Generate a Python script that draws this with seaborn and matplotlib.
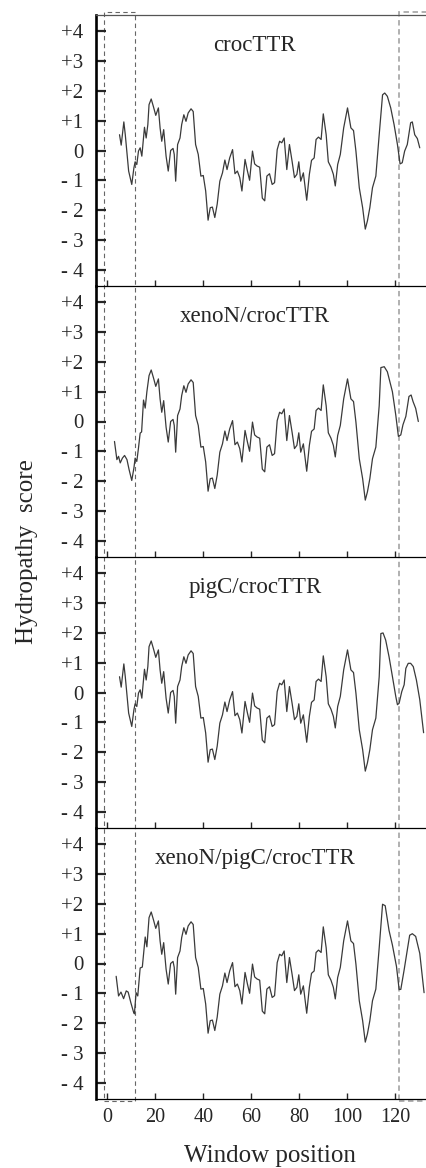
import numpy as np
import pandas as pd
import matplotlib
matplotlib.use('Agg')
import matplotlib.pyplot as plt
import matplotlib.transforms as mtransforms
from matplotlib.patches import Rectangle
import seaborn as sns

sns.set_style('ticks')
plt.rcParams['font.family'] = ['Liberation Serif', 'DejaVu Serif']

# ── DATA ────────────────────────────────────────────────────────
panel_titles = ['crocTTR', 'xenoN/crocTTR', 'pigC/crocTTR', 'xenoN/pigC/crocTTR']

# shared middle part of the hydropathy profile (same in every panel)
core_x = [17.4, 18.3, 19.2, 20.2, 21.3, 22.0, 22.7, 23.5, 24.5, 25.4,
          26.4, 27.4, 27.9, 28.5, 29.3, 30.3, 31.0, 31.9, 32.8, 33.7,
          34.9, 35.8, 36.8, 37.9, 39.0, 40.0, 41.0, 42.0, 42.9, 43.8,
          44.8, 45.8, 46.9, 48.0, 49.0, 49.9, 51.0, 52.2, 53.2, 54.2,
          55.2, 56.1, 57.4, 58.4, 59.3, 60.5, 61.4, 62.4, 63.5, 64.6,
          65.6, 66.5, 67.6, 68.7, 69.7, 70.8, 71.8, 72.7, 73.7, 74.8,
          75.9, 77.0, 78.0, 79.0, 79.8, 80.6, 81.7, 83.1, 84.2, 85.1,
          86.2, 87.0, 88.0, 89.1, 90.0, 91.2, 92.1, 93.2, 94.2, 95.0,
          96.0, 97.1, 98.5, 100.1, 101.5, 102.6, 103.6, 105.0, 106.4, 107.5,
          108.4, 109.4, 110.5, 111.9, 113.3]
core_y = [1.54, 1.73, 1.48, 1.18, 1.43, 0.76, 0.31, 0.70, -0.19, -0.69,
          0.00, 0.07, -0.13, -1.03, 0.20, 0.42, 0.87, 1.20, 0.98, 1.26,
          1.40, 1.31, 0.20, -0.13, -0.86, -0.84, -1.36, -2.34, -1.92, -1.90,
          -2.25, -1.80, -1.03, -0.75, -0.32, -0.64, -0.25, 0.03, -0.78, -0.69,
          -0.91, -1.36, -0.30, -0.69, -1.00, -0.02, -0.45, -0.52, -0.56, -1.60,
          -1.69, -0.86, -0.78, -1.14, -1.08, 0.03, 0.31, 0.26, 0.42, -0.64,
          0.20, -0.36, -0.91, -0.80, -0.38, -1.03, -0.75, -1.67, -0.80, -0.33,
          -0.25, 0.37, 0.45, 0.37, 1.23, 0.53, -0.38, -0.56, -0.80, -1.19,
          -0.47, -0.13, 0.76, 1.43, 0.76, 0.67, -0.02, -1.25, -1.92, -2.64,
          -2.36, -1.92, -1.25, -0.86, 0.53]

# N-terminal heads
croc_head_x = [5.1, 5.8, 6.9, 7.5, 8.9, 10.2, 11.1, 11.6, 12.3, 13.0, 13.7, 14.4, 15.5, 16.2, 16.9]
croc_head_y = [0.53, 0.18, 0.96, 0.53, -0.69, -1.14, -0.58, -0.38, -0.47, -0.02, 0.09, -0.19, 0.78, 0.42, 0.87]
xeno_head_x = [3.0, 4.0, 4.7, 5.4, 6.3, 7.2, 8.2, 9.1, 10.2, 11.1, 11.6, 12.3, 13.0, 13.7, 14.3, 15.1, 15.8, 16.5]
xeno_head_y = [-0.67, -1.28, -1.17, -1.39, -1.23, -1.14, -1.28, -1.62, -1.98, -1.56, -1.23, -1.34, -0.89, -0.39, -0.35, 0.72, 0.45, 1.00]
xp_head_x = [3.7, 4.7, 5.7, 6.8, 7.9, 8.7, 9.8, 10.9, 11.3, 12.0, 12.7, 13.7, 14.6, 15.8, 16.5]
xp_head_y = [-0.43, -1.09, -0.96, -1.18, -0.92, -0.96, -1.31, -1.62, -1.69, -0.98, -1.09, -0.15, -0.12, 0.89, 0.56]

# C-terminal tails
croc_tail_x = [114.7, 115.6, 116.7, 118.1, 119.5, 120.9, 122.0, 122.9, 123.9, 125.0, 126.4, 127.1, 128.1, 129.2, 130.2]
croc_tail_y = [1.87, 1.93, 1.82, 1.43, 0.87, 0.20, -0.45, -0.41, -0.02, 0.20, 0.93, 0.96, 0.53, 0.40, 0.09]
xeno_tail_x = [114.0, 115.4, 116.7, 118.8, 120.2, 121.3, 122.3, 123.2, 124.4, 125.7, 126.6, 127.4, 128.5, 129.6]
xeno_tail_y = [1.81, 1.84, 1.67, 1.00, 0.22, -0.50, -0.45, -0.11, 0.17, 0.84, 0.89, 0.67, 0.44, 0.00]
pig_tail_x = [114.0, 114.9, 116.0, 117.4, 118.8, 120.2, 120.9, 121.6, 122.7, 123.7, 124.4, 125.4, 126.4, 127.5, 128.8, 130.2, 131.8]
pig_tail_y = [1.98, 2.00, 1.76, 1.20, 0.54, -0.13, -0.41, -0.36, 0.03, 0.26, 0.81, 0.98, 0.98, 0.87, 0.42, -0.24, -1.35]
xp_tail_x = [114.7, 115.8, 117.4, 118.8, 120.5, 121.6, 122.3, 123.7, 125.0, 126.0, 127.1, 128.5, 130.2, 132.0]
xp_tail_y = [1.99, 1.94, 1.11, 0.62, -0.10, -0.87, -0.87, -0.21, 0.45, 0.95, 1.00, 0.91, 0.34, -0.98]

heads = [(croc_head_x, croc_head_y), (xeno_head_x, xeno_head_y),
         (croc_head_x, croc_head_y), (xp_head_x, xp_head_y)]
tails = [(croc_tail_x, croc_tail_y), (xeno_tail_x, xeno_tail_y),
         (pig_tail_x, pig_tail_y), (xp_tail_x, xp_tail_y)]

ytick_vals = [4, 3, 2, 1, 0, -1, -2, -3, -4]
ytick_labels = ['+4', '+3', '+2', '+1', '0', '- 1', '- 2', '- 3', '- 4']
xtick_vals = [0, 20, 40, 60, 80, 100, 120]

# ── PLOT ────────────────────────────────────────────────────────
W, H = 426, 1168
fig, axes = plt.subplots(4, 1, figsize=(W / 100, H / 100), dpi=100, sharex=True)
fig.subplots_adjust(left=96 / W, right=1.0, top=1 - 15 / H, bottom=1 - 1099 / H, hspace=0)

for i, ax in enumerate(axes):
    hx, hy = heads[i]
    tx, ty = tails[i]
    df = pd.DataFrame({'pos': np.concatenate([hx, core_x, tx]),
                       'score': np.concatenate([hy, core_y, ty])})
    sns.lineplot(data=df, x='pos', y='score', ax=ax, color='#3a3a3a',
                 linewidth=0.9, sort=False)
    # transparent background so the panel above keeps its full bottom spine
    ax.patch.set_visible(False)
    ax.set_zorder(4 - i)
    ax.set_xlim(-4.7, 132.8)
    ax.set_ylim(-4.55, 4.55)
    ax.set_xlabel('')
    ax.set_ylabel('')
    ax.set_yticks(ytick_vals)
    ax.set_yticklabels(ytick_labels)
    ax.set_xticks(xtick_vals)
    ax.tick_params(axis='y', direction='in', length=7, width=1.6, labelsize=15, pad=9)
    ax.tick_params(axis='x', direction='in', length=4.5, width=1.0, labelsize=14.5, pad=6.5)
    ax.spines['right'].set_visible(False)
    ax.spines['left'].set_linewidth(1.9)
    ax.spines['left'].set_color('black')
    ax.spines['bottom'].set_linewidth(0.9)
    ax.spines['bottom'].set_color('black')
    if i == 0:
        ax.spines['top'].set_color('#555555')
        ax.spines['top'].set_linewidth(0.9)
    else:
        ax.spines['top'].set_visible(False)
    ax.text(61.5, 3.35, panel_titles[i], ha='center', va='baseline', fontsize=16.5)

# dashed boxes marking the N- and C-terminal regions
trans = mtransforms.blended_transform_factory(axes[0].transData, fig.transFigure)
y0, y1 = 1 - 1101 / H, 1 - 12 / H
fig.add_artist(Rectangle((-1.4, y0), 12.9, y1 - y0, transform=trans, fill=False,
                         edgecolor='#666666', linewidth=0.8, linestyle=(0, (4, 3)),
                         clip_on=False))
fig.add_artist(Rectangle((121.5, y0), 20, y1 - y0, transform=trans, fill=False,
                         edgecolor='#aaaaaa', linewidth=1.3, linestyle=(0, (3, 2)),
                         clip_on=False))

fig.text(270 / W, 1 - 1162 / H, 'Window position', ha='center', va='baseline', fontsize=18)
fig.text(27 / W, 1 - 552 / H, 'Hydropathy  score', rotation=90, ha='center',
         va='center', fontsize=18)

plt.savefig('out.png', dpi=100)
plt.close()
